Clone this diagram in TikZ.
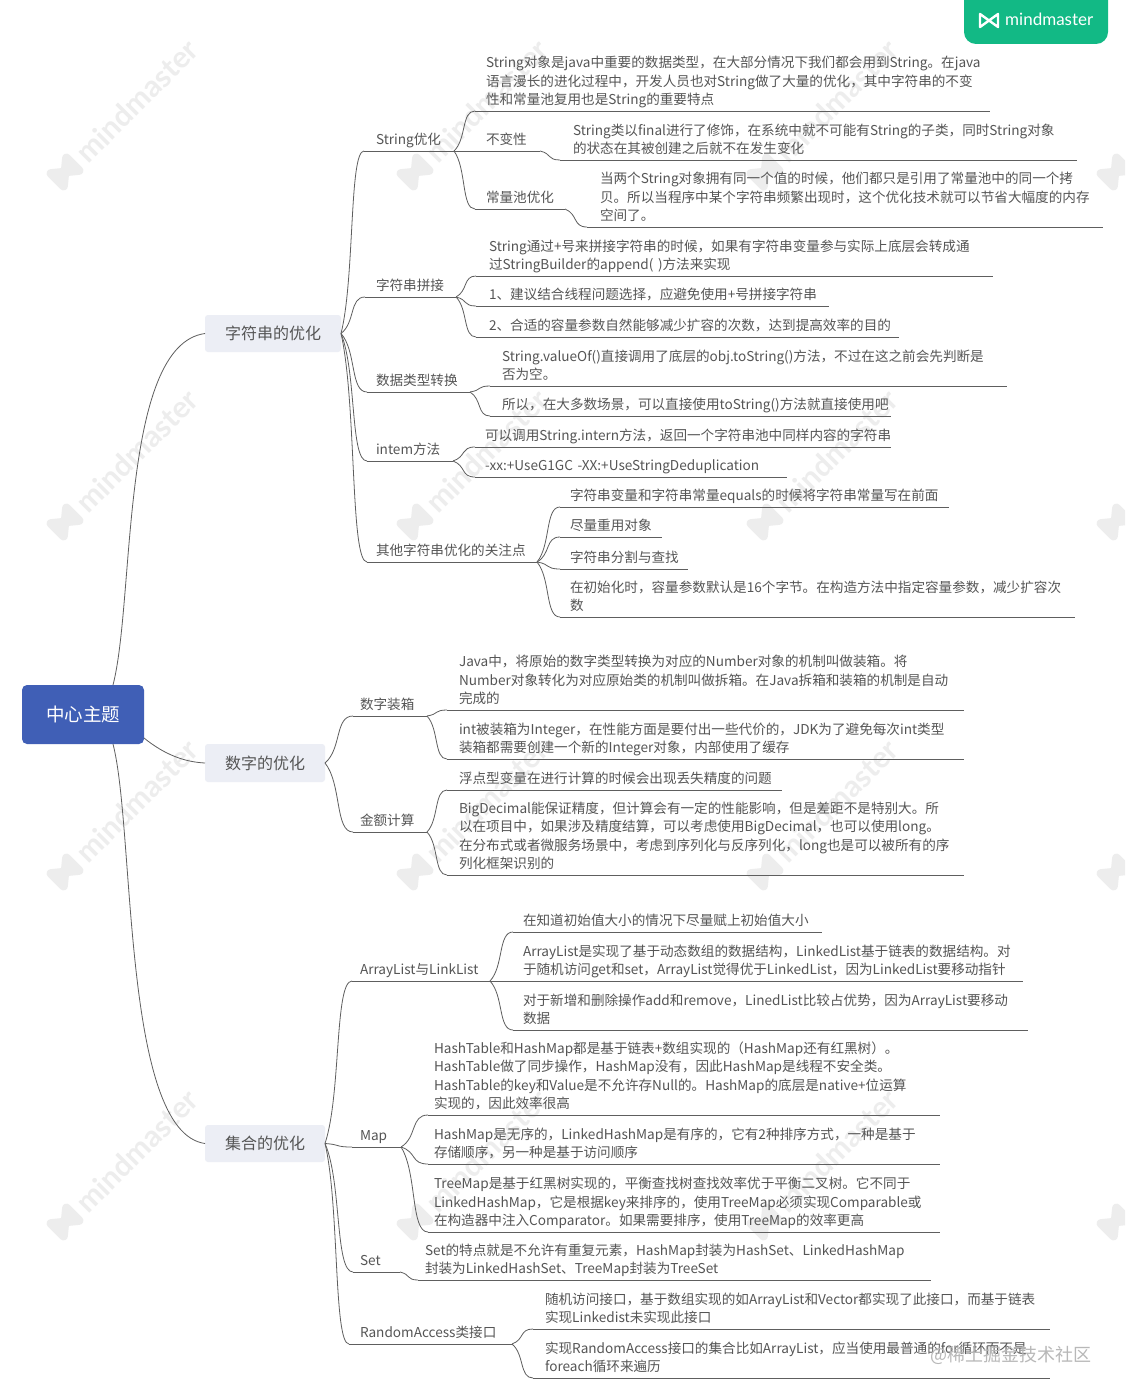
\documentclass[tikz,border=0pt]{standalone}
\usepackage{fontspec}
\setmainfont{Noto Sans CJK SC}
\newfontfamily\markfont{Lato}
\usetikzlibrary{calc}
\definecolor{inkc}{HTML}{555555}
\definecolor{linkc}{HTML}{5E5E5E}
\definecolor{markc}{HTML}{EDEDED}
\definecolor{rootc}{HTML}{405FB6}
\definecolor{branchc}{HTML}{ECEEF5}
\definecolor{greenc}{HTML}{12B985}
\definecolor{stampc}{HTML}{B8B8B8}
\tikzset{
  link/.style={draw=linkc,line width=0.8pt},
  tx/.style={anchor=south west,inner ysep=0.5pt,outer sep=0pt,align=left,text=inkc,
    font=\fontsize{13.6}{18.5}\selectfont,
    execute at begin node=\strut,execute at end node=\strut},
  branch/.style={fill=branchc,rounded corners=3pt,text=inkc,inner sep=0pt,outer sep=0pt,
    font=\fontsize{16}{20}\selectfont},
  rootbox/.style={fill=rootc,rounded corners=5pt,text=white,inner sep=0pt,outer sep=0pt,
    font=\fontsize{18.5}{22}\selectfont},
  wmtext/.style={text=markc,rotate=45,inner sep=0pt,font=\markfont\bfseries\fontsize{30}{34}\selectfont},
  bow/.style={line join=round},
}
% text with its underline: name, x0, x1, y of the line, left inset, text
\newcommand\tn[6]{%
  \pgfmathsetmacro\tw{#3-#2-2*#5}%
  \node[tx,inner xsep=#5pt,text width=\tw pt] (#1) at (#2,#4) {#6};
  \draw[link] (#1.south west) -- (#1.south east);}
\newcommand\conn[2]{%
  \draw[link] let \p1=(#1),\p2=(#2) in (#1) ..
    controls ({\x1+0.6*(\x2-\x1)},{\y1+0.3*(\y2-\y1)}) and ({\x1+0.35*(\x2-\x1)},\y2) .. (#2);}
\begin{document}
\begin{tikzpicture}[x=1pt,y=-1pt]
\clip (0,0) rectangle (1125,1399);
\fill[white] (0,0) rectangle (1125,1399);
% watermarks
\foreach \wx in {0,350,700,1050}{
  \foreach \wy in {0,350,700,1050}{
    \node[wmtext] at (137+\wx,101+\wy) {mindmaster};
    \draw[markc,line width=8.5pt,bow,shift={(65+\wx,172+\wy)},rotate=45]
      (-11,-9) -- (11,9) -- (11,-9) -- (-11,9) -- cycle;
  }
}
% badge
\fill[greenc,rounded corners=12pt] (964,-20) rectangle (1108,44);
\draw[white,line width=2.4pt,bow] (980,14) -- (998,27) -- (998,14) -- (980,27) -- cycle;
\node[text=white,inner sep=0pt,anchor=base west,font=\markfont\fontsize{17}{20}\selectfont] (badge) at (1005,26) {mindmaster};

% root and branches
\node[rootbox,minimum width=122pt,minimum height=59pt] (root) at (83,714.5) {中心主题};
\node[branch,minimum width=136pt,minimum height=37pt] (b1) at (273,333.5) {字符串的优化};
\node[branch,minimum width=120pt,minimum height=38pt] (b2) at (265,763) {数字的优化};
\node[branch,minimum width=120pt,minimum height=37pt] (b3) at (265,1143.5) {集合的优化};
\draw[link] ([xshift=30pt]root.north) .. controls (135,600) and (120,345) .. (b1.west);
\draw[link] ([yshift=6pt]root.south east) .. controls (165,755) and (185,762) .. (b2.west);
\draw[link] ([xshift=30pt]root.south) .. controls (135,829) and (122,1132) .. (b3.west);

% String优化
\tn{c1}{364}{454}{151}{12}{String优化}
\conn{b1.east}{c1.south west}
\tn{d1}{475}{990}{111}{11}{String对象是java中重要的数据类型，在大部分情况下我们都会用到String。在java\\语言漫长的进化过程中，开发人员也对String做了大量的优化，其中字符串的不变\\性和常量池复用也是String的重要特点}
\conn{c1.south east}{d1.south west}
\tn{d2}{454}{540}{151}{32}{不变性}
\tn{e1}{560}{1077}{160}{13}{String类以final进行了修饰，在系统中就不可能有String的子类，同时String对象\\的状态在其被创建之后就不在发生变化}
\conn{d2.south east}{e1.south west}
\tn{d3}{475}{565}{209}{11}{常量池优化}
\conn{c1.south east}{d3.south west}
\tn{e2}{587}{1103}{227}{13}{当两个String对象拥有同一个值的时候，他们都只是引用了常量池中的同一个拷\\贝。所以当程序中某个字符串频繁出现时，这个优化技术就可以节省大幅度的内存\\空间了。}
\conn{d3.south east}{e2.south west}

% 字符串拼接
\tn{c2}{365}{456}{297}{11}{字符串拼接}
\conn{b1.east}{c2.south west}
\tn{d4}{476}{993}{276}{13}{String通过+号来拼接字符串的时候，如果有字符串变量参与实际上底层会转成通\\过StringBuilder的append( )方法来实现}
\conn{c2.south east}{d4.south west}
\tn{d5}{476}{829}{306}{13}{1、建议结合线程问题选择，应避免使用+号拼接字符串}
\conn{c2.south east}{d5.south west}
\tn{d6}{476}{899}{337}{13}{2、合适的容量参数自然能够减少扩容的次数，达到提高效率的目的}
\conn{c2.south east}{d6.south west}

% 数据类型转换
\tn{c3}{367}{470}{392}{9}{数据类型转换}
\conn{b1.east}{c3.south west}
\tn{d7}{490}{1007}{386}{12}{String.valueOf()直接调用了底层的obj.toString()方法，不过在这之前会先判断是\\否为空。}
\conn{c3.south east}{d7.south west}
\tn{d8}{490}{891}{416}{12}{所以，在大多数场景，可以直接使用toString()方法就直接使用吧}
\conn{c3.south east}{d8.south west}

% intem方法
\tn{c4}{367}{453}{461}{9}{intem方法}
\conn{b1.east}{c4.south west}
\tn{d9}{475}{891}{447}{10}{可以调用String.intern方法，返回一个字符串池中同样内容的字符串}
\conn{c4.south east}{d9.south west}
\tn{d10}{475}{787}{477}{10}{-xx:+UseG1GC -XX:+UseStringDeduplication}
\conn{c4.south east}{d10.south west}

% 其他
\tn{c5}{367}{537}{562}{9}{其他字符串优化的关注点}
\conn{b1.east}{c5.south west}
\tn{d11}{560}{949}{507}{10}{字符串变量和字符串常量equals的时候将字符串常量写在前面}
\conn{c5.south east}{d11.south west}
\tn{d12}{560}{662}{537}{10}{尽量重用对象}
\conn{c5.south east}{d12.south west}
\tn{d13}{560}{688}{569}{10}{字符串分割与查找}
\conn{c5.south east}{d13.south west}
\tn{d14}{560}{1075}{617}{10}{在初始化时，容量参数默认是16个字节。在构造方法中指定容量参数，减少扩容次\\数}
\conn{c5.south east}{d14.south west}

% 数字装箱
\tn{c6}{353}{427}{716}{7}{数字装箱}
\conn{b2.east}{c6.south west}
\tn{f1}{447}{964}{710}{12}{Java中，将原始的数字类型转换为对应的Number对象的机制叫做装箱。将\\Number对象转化为对应原始类的机制叫做拆箱。在Java拆箱和装箱的机制是自动\\完成的}
\conn{c6.south east}{f1.south west}
\tn{f2}{447}{964}{759}{12}{int被装箱为Integer，在性能方面是要付出一些代价的，JDK为了避免每次int类型\\装箱都需要创建一个新的Integer对象，内部使用了缓存}
\conn{c6.south east}{f2.south west}

% 金额计算
\tn{c7}{353}{427}{832}{7}{金额计算}
\conn{b2.east}{c7.south west}
\tn{f3}{447}{782}{790}{12}{浮点型变量在进行计算的时候会出现丢失精度的问题}
\conn{c7.south east}{f3.south west}
\tn{f4}{447}{964}{875}{12}{BigDecimal能保证精度，但计算会有一定的性能影响，但是差距不是特别大。所\\以在项目中，如果涉及精度结算，可以考虑使用BigDecimal，也可以使用long。\\在分布式或者微服务场景中，考虑到序列化与反序列化，long也是可以被所有的序\\列化框架识别的}
\conn{c7.south east}{f4.south west}

% ArrayList
\tn{c8}{352}{490}{981}{8}{ArrayList与LinkList}
\conn{b3.east}{c8.south west}
\tn{g1}{513}{822}{932}{10}{在知道初始值大小的情况下尽量赋上初始值大小}
\conn{c8.south east}{g1.south west}
\tn{g2}{513}{1023}{981}{10}{ArrayList是实现了基于动态数组的数据结构，LinkedList基于链表的数据结构。对\\于随机访问get和set，ArrayList觉得优于LinkedList，因为LinkedList要移动指针}
\conn{c8.south east}{g2.south west}
\tn{g3}{513}{1028}{1030}{10}{对于新增和删除操作add和remove，LinedList比较占优势，因为ArrayList要移动\\数据}
\conn{c8.south east}{g3.south west}

% Map
\tn{c9}{352}{401}{1147}{8}{Map}
\conn{b3.east}{c9.south west}
\tn{g4}{428}{940}{1115}{6}{HashTable和HashMap都是基于链表+数组实现的（HashMap还有红黑树）。\\HashTable做了同步操作，HashMap没有，因此HashMap是线程不安全类。\\HashTable的key和Value是不允许存Null的。HashMap的底层是native+位运算\\实现的，因此效率很高}
\conn{c9.south east}{g4.south west}
\tn{g5}{428}{940}{1164}{6}{HashMap是无序的，LinkedHashMap是有序的，它有2种排序方式，一种是基于\\存储顺序，另一种是基于访问顺序}
\conn{c9.south east}{g5.south west}
\tn{g6}{428}{940}{1232}{6}{TreeMap是基于红黑树实现的，平衡查找树查找效率优于平衡二叉树。它不同于\\LinkedHashMap，它是根据key来排序的，使用TreeMap必须实现Comparable或\\在构造器中注入Comparator。如果需要排序，使用TreeMap的效率更高}
\conn{c9.south east}{g6.south west}

% Set
\tn{c10}{353}{400}{1272}{7}{Set}
\conn{b3.east}{c10.south west}
\tn{g7}{418}{931}{1280}{7}{Set的特点就是不允许有重复元素，HashMap封装为HashSet、LinkedHashMap\\封装为LinkedHashSet、TreeMap封装为TreeSet}
\conn{c10.south east}{g7.south west}

% RandomAccess
\tn{c11}{349}{512}{1344}{11}{RandomAccess类接口}
\conn{b3.east}{c11.south west}
\tn{g8}{533}{1050}{1329}{12}{随机访问接口，基于数组实现的如ArrayList和Vector都实现了此接口，而基于链表\\实现Linkedist未实现此接口}
\conn{c11.south east}{g8.south west}
\tn{g9}{533}{1050}{1378}{12}{实现RandomAccess接口的集合比如ArrayList，应当使用最普通的for循环而不是\\foreach循环来遍历}
\conn{c11.south east}{g9.south west}

% stamp
\node[text=stampc,inner sep=0pt,anchor=west,font=\fontsize{18}{20}\selectfont] (stamp) at (930,1355) {@稀土掘金技术社区};
\end{tikzpicture}
\end{document}
